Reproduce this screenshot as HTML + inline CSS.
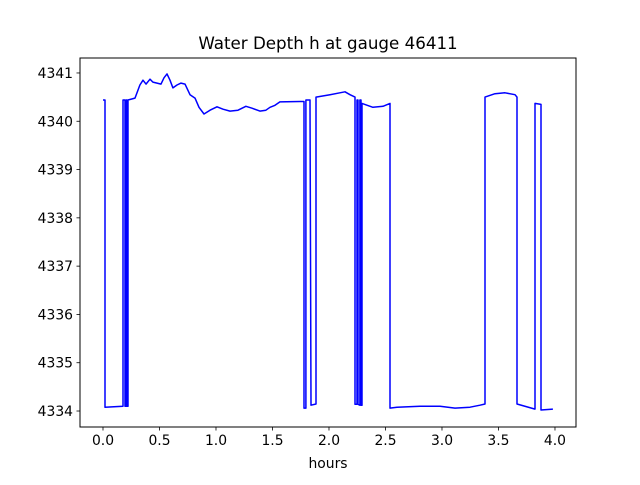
<!DOCTYPE html>
<html><head><meta charset="utf-8"><style>
body{margin:0;background:#fff;}
svg text{font-family:"DejaVu Sans","Liberation Sans",sans-serif;fill:#000;}
</style></head><body>
<svg id="chart" width="640" height="480" xmlns="http://www.w3.org/2000/svg">
<rect width="640" height="480" fill="#fff"/>
<text x="328" y="49" font-size="16.7" text-anchor="middle">Water Depth h at gauge 46411</text>
<g id="plot"></g>
<rect x="80" y="58" width="496" height="369" fill="none" stroke="#000" stroke-width="1"/>
<text x="328" y="468" font-size="13.9" text-anchor="middle">hours</text>
</svg>
<script>
const hours=[0,0.018,0.018,0.177,0.177,0.195,0.195,0.204,0.204,0.212,0.212,0.221,0.221,0.283,0.327,0.354,0.381,0.416,0.442,0.478,0.513,0.540,0.566,0.593,0.619,0.655,0.690,0.726,0.770,0.814,0.850,0.894,0.947,1.009,1.062,1.124,1.195,1.265,1.319,1.389,1.442,1.478,1.522,1.566,1.743,1.779,1.779,1.796,1.796,1.832,1.841,1.885,1.885,2.009,2.097,2.142,2.186,2.230,2.230,2.248,2.248,2.257,2.257,2.274,2.274,2.283,2.283,2.292,2.292,2.389,2.478,2.540,2.540,2.602,2.805,2.982,3.115,3.248,3.336,3.381,3.381,3.469,3.558,3.646,3.664,3.664,3.823,3.823,3.876,3.876,3.982];
const depth=[4340.44,4340.44,4334.08,4334.10,4340.44,4340.44,4334.10,4334.10,4340.44,4340.44,4334.10,4334.10,4340.44,4340.48,4340.75,4340.85,4340.77,4340.87,4340.81,4340.79,4340.77,4340.90,4340.98,4340.85,4340.69,4340.75,4340.79,4340.77,4340.55,4340.48,4340.29,4340.15,4340.23,4340.30,4340.25,4340.21,4340.23,4340.31,4340.27,4340.21,4340.23,4340.29,4340.33,4340.40,4340.41,4340.41,4334.06,4334.06,4340.44,4340.44,4334.12,4334.145,4340.50,4340.55,4340.59,4340.61,4340.55,4340.50,4334.14,4334.14,4340.44,4340.44,4334.14,4334.12,4340.44,4340.44,4334.12,4334.12,4340.37,4340.29,4340.31,4340.37,4334.06,4334.08,4334.10,4334.10,4334.06,4334.08,4334.12,4334.145,4340.50,4340.57,4340.59,4340.55,4340.50,4334.145,4334.04,4340.37,4340.35,4334.02,4334.04];
const xTicks=[0,0.5,1,1.5,2,2.5,3,3.5,4];
const xTickLabels=["0.0","0.5","1.0","1.5","2.0","2.5","3.0","3.5","4.0"];
const yTicks=[4334,4335,4336,4337,4338,4339,4340,4341];
const yTickLabels=["4334","4335","4336","4337","4338","4339","4340","4341"];
const X0=80,X1=576,Y0=58,Y1=427,xmin=-0.2035,xmax=4.186,ymin=4333.669,ymax=4341.31;
const sx=v=>X0+(v-xmin)/(xmax-xmin)*(X1-X0);
const sy=v=>Y1-(v-ymin)/(ymax-ymin)*(Y1-Y0);
const NS="http://www.w3.org/2000/svg";
const g=document.getElementById('plot');
function mk(t,a){const e=document.createElementNS(NS,t);for(const k in a)e.setAttribute(k,a[k]);return e;}
xTicks.forEach((v,i)=>{
 const l=mk('line',{x1:sx(v),x2:sx(v),y1:Y1,y2:Y1+3.5,stroke:'#000','stroke-width':0.8});
 
 
 g.appendChild(l);
 const t=mk('text',{x:sx(v),y:Y1+18,'font-size':13.9,'text-anchor':'middle'});
 
 
 t.textContent=xTickLabels[i];g.appendChild(t);
});
yTicks.forEach((v,i)=>{
 const l=mk('line',{x1:X0-3.5,x2:X0,y1:sy(v),y2:sy(v),stroke:'#000','stroke-width':0.8});
 
 
 g.appendChild(l);
 const t=mk('text',{x:X0-7,y:sy(v)+5,'font-size':13.9,'text-anchor':'end'});
 
 
 t.textContent=yTickLabels[i];g.appendChild(t);
});
const d=hours.map((h,i)=>(i?'L':'M')+sx(h).toFixed(1)+','+sy(depth[i]).toFixed(1)).join('');
const p=mk('path',{d:d,fill:'none',stroke:'#0000ff','stroke-width':1.5,'stroke-linejoin':'round'});


g.appendChild(p);
</script>
</body></html>
